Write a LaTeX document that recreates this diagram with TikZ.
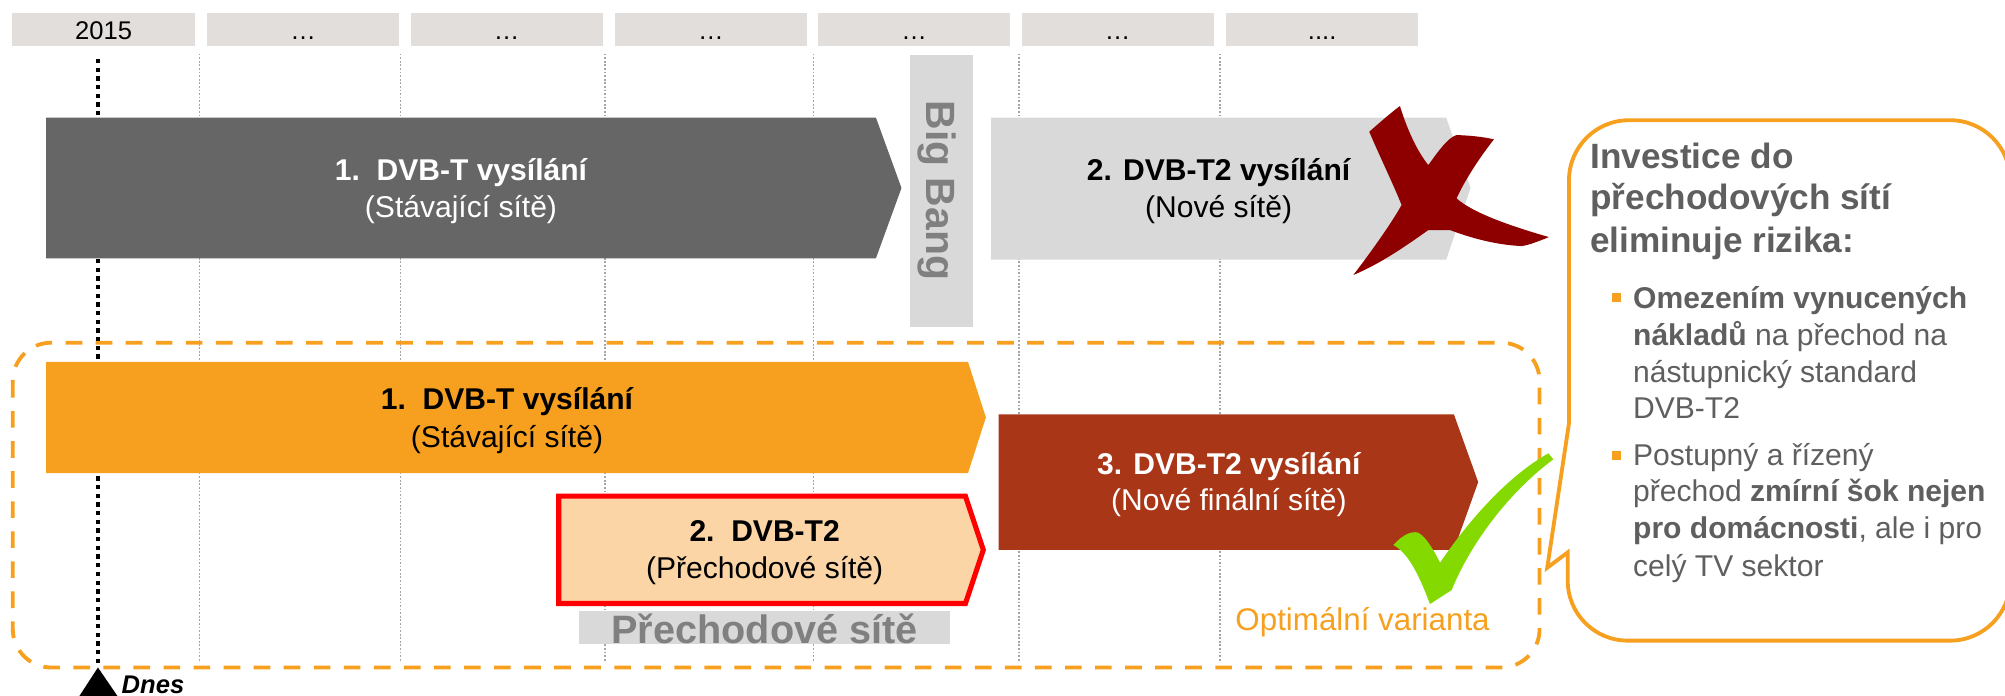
\documentclass[tikz,border=0pt]{standalone}
\usepackage{fontspec}
\setmainfont{Liberation Sans}
\definecolor{hdrgray}{RGB}{226,222,219}
\definecolor{gridgray}{RGB}{165,165,165}
\definecolor{darkbar}{RGB}{102,102,102}
\definecolor{lightbar}{RGB}{217,217,217}
\definecolor{orangebar}{RGB}{247,160,31}
\definecolor{brownbar}{RGB}{169,54,22}
\definecolor{peachbar}{RGB}{252,213,166}
\definecolor{crossred}{RGB}{142,0,0}
\definecolor{checkgreen}{RGB}{132,218,0}
\definecolor{bubbletext}{RGB}{95,95,95}
\definecolor{bangtext}{RGB}{128,128,128}
\tikzset{
  hdrbox/.style={fill=hdrgray, minimum height=25.5pt, text height=15pt, text depth=0pt,
                 inner sep=0pt, font=\fontsize{20}{24}\selectfont},
  gridline/.style={draw=gridgray, line width=1.1pt, dash pattern=on 1.4pt off 1.4pt},
  todayline/.style={draw=black, line width=3pt, dash pattern=on 3.4pt off 3.4pt},
  frame/.style={draw=orangebar, line width=3pt, dash pattern=on 13pt off 10.5pt, rounded corners=30pt},
  lblbold/.style={anchor=base, inner sep=0pt, font=\fontsize{23.5}{28}\selectfont\bfseries},
  lblreg/.style={anchor=base, inner sep=0pt, font=\fontsize{23.5}{28}\selectfont},
  headtxt/.style={anchor=base west, inner sep=0pt, text=bubbletext, font=\fontsize{27.5}{33}\selectfont\bfseries},
  bullettxt/.style={anchor=base west, inner sep=0pt, text=bubbletext, font=\fontsize{23.5}{29}\selectfont},
  bulletsq/.style={fill=orangebar, minimum size=7pt, inner sep=0pt},
}
\begin{document}
\begin{tikzpicture}[x=1pt,y=-1pt]
\useasboundingbox (0,0) rectangle (1568,544);

% time axis header
\node[hdrbox, minimum width=143pt] (h1) at (81,23) {2015};
\node[hdrbox, minimum width=150pt] (h2) at (237,23) {…};
\node[hdrbox, minimum width=150pt] (h3) at (396.3,23) {…};
\node[hdrbox, minimum width=150pt] (h4) at (556,23) {…};
\node[hdrbox, minimum width=150pt] (h5) at (715,23) {…};
\node[hdrbox, minimum width=150pt] (h6) at (874,23) {…};
\node[hdrbox, minimum width=150pt] (h7) at (1034,23) {....};

% period separators
\foreach \gx in {156,313,473,636,797,954}
  \draw[gridline] (\gx,42) -- (\gx,518);

% today marker
\coordinate (ttop) at (76.6,46);
\coordinate (tbot) at (76.6,519);
\draw[todayline] (ttop) -- (tbot);

% frame around the recommended path
\draw[frame] (10,268) rectangle (1204,522);

% Big Bang scenario
\fill[darkbar] (36,92) -- (685,92) -- (705,147) -- (685,202) -- (36,202) -- cycle;
\fill[lightbar] (775,92) -- (1131,92) -- (1150,147) -- (1131,203) -- (775,203) -- cycle;
\node[fill=lightbar, minimum width=49pt, minimum height=213pt, inner sep=0pt] (bbbox) at (736.5,149.5) {};
\node[rotate=-90, text=bangtext, font=\fontsize{32}{38}\selectfont\bfseries] (bb) at (733,149) {Big Bang};

\node[lblbold, text=white] (d1a) at (360.5,141) {1.\ \ DVB-T vysílání};
\node[lblreg, text=white] (d1b) at (360.5,170) {(Stávající sítě)};
\node[lblbold] (d2a) at (953,141) {2. DVB-T2 vysílání};
\node[lblreg] (d2b) at (953,170) {(Nové sítě)};

% rejection cross, two brush strokes
\fill[crossred]
  (1094.8,82.9) .. controls (1100,100) and (1108,118) .. (1117,129.1)
  .. controls (1125,118) and (1132,108) .. (1139,105.6)
  .. controls (1150,106) and (1160,107) .. (1168.3,109)
  .. controls (1158,122) and (1146,140) .. (1139.1,155.1)
  .. controls (1150,165) and (1175,175) .. (1211.3,185.4)
  .. controls (1200,190) and (1193,192.5) .. (1188.7,192.4)
  .. controls (1165,191) and (1145,184) .. (1133.9,179.9)
  -- (1117,179.9)
  .. controls (1100,192) and (1080,206) .. (1058.3,215.1)
  .. controls (1070,200) and (1088,175) .. (1096.1,160.3)
  .. controls (1090,145) and (1078,120) .. (1070.8,103)
  .. controls (1080,95) and (1088,88) .. cycle;

% transition scenario
\fill[orangebar] (36,283) -- (757,283) -- (771,326.5) -- (757,370) -- (36,370) -- cycle;
\fill[brownbar] (781,324) -- (1137,324) -- (1156,377) -- (1137,430) -- (781,430) -- cycle;
\filldraw[fill=peachbar, draw=red, line width=4pt, miter limit=10]
  (437,388) -- (755,388) -- (769,430) -- (755,472) -- (437,472) -- cycle;

\node[lblbold] (o1a) at (396.5,320.5) {1.\ \ DVB-T vysílání};
\node[lblreg] (o1b) at (396.5,350) {(Stávající sítě)};
\node[lblbold, text=white] (b3a) at (961,370.7) {3. DVB-T2 vysílání};
\node[lblreg, text=white] (b3b) at (961,399.5) {(Nové finální sítě)};
\node[lblbold] (p2a) at (598,423.5) {2.\ \ DVB-T2};
\node[lblreg] (p2b) at (598,452.5) {(Přechodové sítě)};

\node[fill=lightbar, minimum width=290pt, minimum height=26pt, inner sep=0pt] (pbox) at (598,491) {};
\node[anchor=base, inner sep=0pt, text=bangtext, font=\fontsize{31}{36}\selectfont\bfseries] (ptxt) at (598,503) {Přechodové sítě};

\node[anchor=base west, inner sep=0pt, text=orangebar, font=\fontsize{24.5}{29}\selectfont] (opt) at (966,493) {Optimální varianta};

% approval tick
\fill[checkgreen] (1118.3,472.4) .. controls (1108,445) and (1100,432) .. (1089.7,426.2)
  .. controls (1097,418) and (1104,415) .. (1109.2,416.6)
  .. controls (1115,420) and (1120,428) .. (1126.2,440)
  .. controls (1150,405) and (1180,372) .. (1210.9,354.5) -- (1214.8,359.2)
  .. controls (1180,385) and (1150,425) .. (1135.3,461.4) -- cycle;

% callout
\filldraw[fill=white, draw=orangebar, line width=3pt, line join=miter]
  (1227,331) -- (1227,141) .. controls (1227,115) and (1248,94) .. (1274,94)
  -- (1525,94) .. controls (1551,94) and (1572,115) .. (1572,141)
  -- (1572,454) .. controls (1572,480) and (1551,501) .. (1525,501)
  -- (1273,501) .. controls (1247,501) and (1226,480) .. (1226,454)
  -- (1226,432) -- (1210,444) -- cycle;

\node[headtxt] (c1) at (1243.5,131.6) {Investice do};
\node[headtxt] (c2) at (1243.5,164.2) {přechodových sítí};
\node[headtxt] (c3) at (1243.5,197.3) {eliminuje rizika:};

\node[bulletsq] (s1) at (1264.5,233) {};
\node[bullettxt] (l1) at (1277,241) {\textbf{Omezením vynucených}};
\node[bullettxt] (l2) at (1277,270) {\textbf{nákladů} na přechod na};
\node[bullettxt] (l3) at (1277,299) {nástupnický standard};
\node[bullettxt] (l4) at (1277,327.5) {DVB-T2};
\node[bulletsq] (s2) at (1264.5,356) {};
\node[bullettxt] (l5) at (1277,364) {Postupný a řízený};
\node[bullettxt] (l6) at (1277,392.5) {přechod \textbf{zmírní šok nejen}};
\node[bullettxt] (l7) at (1277,421.5) {\textbf{pro domácnosti}, ale i pro};
\node[bullettxt] (l8) at (1277,450.5) {celý TV sektor};

% today label
\fill (tbot) ++(0,3) -- (93,546) -- (61,546) -- cycle;
\node[anchor=base west, inner sep=0pt, font=\fontsize{20}{24}\selectfont\bfseries\itshape] (dnes) at (95,542) {Dnes};
\end{tikzpicture}
\end{document}
